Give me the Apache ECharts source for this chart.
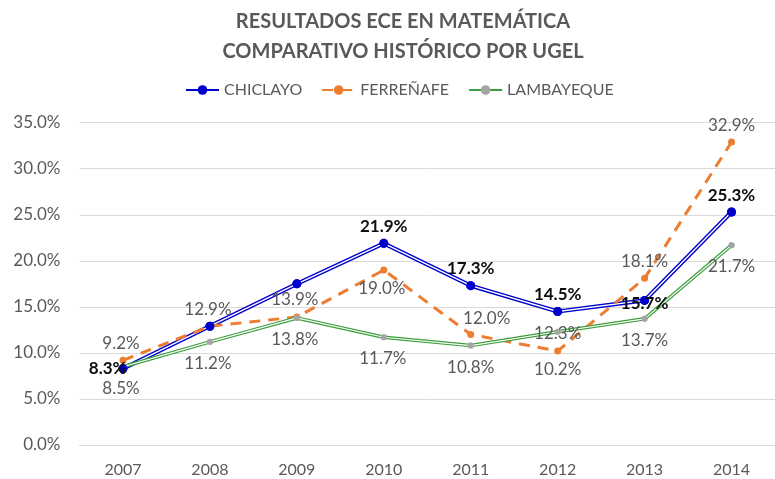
<!DOCTYPE html>
<html>
<head>
<meta charset="utf-8">
<script src="https://cdn.jsdelivr.net/npm/echarts@6/dist/echarts.min.js"></script>
<style>
html,body{margin:0;padding:0;background:#fff;}
#chart{width:775px;height:479px;}
</style>
</head>
<body>
<div id="chart"></div>
<script>
const years = ['2007','2008','2009','2010','2011','2012','2013','2014'];
const chiclayo = [8.3, 12.9, 17.5, 21.9, 17.3, 14.5, 15.7, 25.3];
const ferrenafe = [9.2, 12.9, 13.9, 19.0, 12.0, 10.2, 18.1, 32.9];
const lambayeque = [8.5, 11.2, 13.8, 11.7, 10.8, 12.3, 13.7, 21.7];
const yTicks = [0, 5, 10, 15, 20, 25, 30, 35];

// label placement (style only): [position, offset, distance]
const chiclayoLab = [['left',[12,0],4], null, null, ['top',[0,0],4], ['top',[0,0],4], ['top',[0,0],4], ['inside',[0,3],0], ['top',[0,0],4]];
const ferrenafeLab = [['top',[-2,0],5], ['top',[-2,0],5], ['top',[-2,0],5], ['bottom',[-2,0],6], ['top',[16,0],4], ['bottom',[0,0],6], ['top',[0,0],5], ['top',[0,0],5]];
const lambayequeLab = [['bottom',[-2,0],10], ['bottom',[-2,0],10], ['bottom',[-2,0],10], ['bottom',[-1,0],10], ['bottom',[0,0],10], ['inside',[0,2],0], ['bottom',[0,0],10], ['bottom',[0,0],10]];

const FONT = 'Lato';
const fmt = p => p.value.toFixed(1) + '%';

function buildData(vals, labs, color, bold) {
  return vals.map((v, i) => {
    const l = labs[i];
    if (!l) return { value: v, label: { show: false } };
    return {
      value: v,
      label: {
        show: true, position: l[0], offset: l[1], distance: l[2],
        formatter: fmt, fontFamily: FONT, fontSize: 17,
        fontWeight: bold ? 'bold' : 'normal', color: color
      }
    };
  });
}

const chart = echarts.init(document.getElementById('chart'), null, {renderer: 'canvas'});
const blue = '#0000CC', orange = '#ED7D31', green = '#3E9E3E', gray = '#A5A5A5';

chart.setOption({
  animation: false,
  backgroundColor: '#fff',
  title: {
    text: 'RESULTADOS ECE EN MATEMÁTICA\nCOMPARATIVO HISTÓRICO POR UGEL',
    left: 403, top: 7, textAlign: 'center', padding: 0,
    textStyle: { fontFamily: FONT, fontSize: 20, fontWeight: 'bold', color: '#595959', lineHeight: 30 }
  },
  legend: {
    data: ['CHICLAYO', 'FERREÑAFE', 'LAMBAYEQUE'],
    left: 185, top: 82, padding: 0,
    itemWidth: 33, itemHeight: 12, itemGap: 19,
    textStyle: { fontFamily: FONT, fontSize: 16, color: '#595959' }
  },
  grid: { left: 79.5, right: -7.5, top: 122.7, bottom: 34, containLabel: false },
  xAxis: {
    type: 'category', data: years, boundaryGap: true,
    axisLine: { show: true, lineStyle: { color: '#D9D9D9', width: 1 } },
    axisTick: { show: false },
    axisLabel: { fontFamily: FONT, fontSize: 16, color: '#595959', margin: 17 }
  },
  yAxis: {
    type: 'value', min: yTicks[0], max: yTicks[yTicks.length - 1], interval: 5,
    axisLine: { show: false }, axisTick: { show: false },
    splitLine: { lineStyle: { color: '#D9D9D9', width: 1 } },
    axisLabel: { fontFamily: FONT, fontSize: 17, color: '#595959', margin: 19,
      formatter: v => v.toFixed(1) + '%' }
  },
  series: [
    { name: 'CHICLAYO', type: 'line', z: 2, data: chiclayo,
      symbol: 'circle', symbolSize: 9, itemStyle: { color: blue },
      lineStyle: { color: blue, width: 4.2 }, label: { show: false } },
    { name: '_chiclayoInner', type: 'line', z: 3, data: chiclayo, silent: true,
      showSymbol: false, symbol: 'none', lineStyle: { color: '#fff', width: 1.4 }, label: { show: false } },
    { name: 'FERREÑAFE', type: 'line', z: 5, data: buildData(ferrenafe, ferrenafeLab, '#595959', false),
      symbol: 'circle', symbolSize: 7, itemStyle: { color: orange },
      lineStyle: { color: orange, width: 3, type: [11, 8] } },
    { name: 'LAMBAYEQUE', type: 'line', z: 6, data: lambayeque,
      symbol: 'circle', symbolSize: 6, itemStyle: { color: gray },
      lineStyle: { color: green, width: 3.6 }, label: { show: false } },
    { name: '_lambInner', type: 'line', z: 7, data: lambayeque, silent: true,
      symbol: 'none', lineStyle: { color: '#fff', width: 1.2 }, label: { show: false } },
    { name: '_lambDots', type: 'line', z: 8, data: buildData(lambayeque, lambayequeLab, '#595959', false), silent: true,
      symbol: 'circle', symbolSize: 6, itemStyle: { color: gray },
      lineStyle: { width: 0, opacity: 0 } },
    { name: '_chiclayoDots', type: 'line', z: 9, data: buildData(chiclayo, chiclayoLab, '#0D0D0D', true), silent: true,
      symbol: 'circle', symbolSize: 9, itemStyle: { color: blue },
      lineStyle: { width: 0, opacity: 0 } }
  ]
});
</script>
</body>
</html>
